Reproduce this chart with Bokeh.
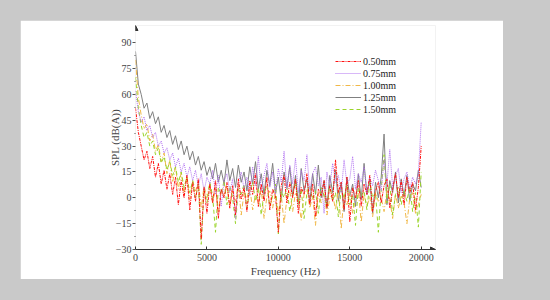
from bokeh.plotting import figure
from bokeh.embed import file_html
from bokeh.resources import INLINE
from bokeh.models import Legend, LegendItem, Arrow, NormalHead, FixedTicker

freq = list(range(0, 20001, 200))

spl_050 = [52, 38, 30, 22, 27, 17, 24, 12, 20, 8, 16, 5, 14, 2, 12, -4, 10, 0, 13, -7,
           9, -2, 11, -24, 6, -9, 8, -3, 10, -12, 5, 0, 9, -6, 7, -10, 11, -1, 6, -8,
           10, 2, 14, -5, 8, -2, 12, -7, 5, 1, -20, 7, 13, -3, 9, 0, 11, -9, 6, 2,
           14, -4, 8, -11, 5, 1, 10, -6, 7, -2, 22, 3, 9, -7, 12, -14, 6, 0, 10, -5,
           8, 2, 13, -8, 4, 9, -3, 7, 11, -6, 5, 14, 0, 10, -4, 12, 3, 9, -7, 6, 30]

spl_075 = [62, 50, 44, 47, 39, 42, 35, 38, 30, 33, 26, 29, 22, 26, 18, 23, 15, 20, 12, 18,
           10, 16, 7, 14, 4, 12, 8, 16, 2, 13, -5, 10, 14, 3, 11, -12, 9, 15, 5, 12,
           1, 18, 7, 24, 4, 13, 20, 6, 15, 2, 17, 9, 27, 5, 19, 8, 23, 3, 16, 10,
           25, 4, 14, 18, 7, 12, -9, 15, 6, 20, 9, 13, 3, 22, 8, 11, 24, 5, 14, 9,
           18, 2, 12, 7, 16, 10, 4, 22, 8, 28, 6, 13, 17, 3, 11, 15, 5, 12, 8, 14, 44]

spl_100 = [80, 58, 48, 40, 43, 33, 37, 27, 31, 21, 26, 14, 22, 9, 18, 5, 15, 2, 13, -1,
           10, 4, 9, -6, 7, 0, 8, -3, 6, -8, 5, 1, 7, -5, 4, -2, 8, -10, 3, 0,
           6, -7, 2, -4, 5, -12, 1, 4, -6, 3, -9, 2, -15, 0, 4, -8, 3, -1, -13, 2,
           5, -6, 1, -16, 3, -3, 4, -10, 0, 2, -7, 5, -18, 1, -4, 3, -9, 0, 4, -14,
           2, -5, 1, -11, 3, -2, 0, -8, 4, -1, -12, 2, -6, 1, -3, -15, 0, 3, -9, -4, 2]

spl_125 = [85, 66, 60, 52, 55, 46, 50, 43, 47, 38, 42, 35, 39, 31, 36, 28, 33, 25, 30, 22,
           27, 19, 24, 16, 21, 13, 18, 11, 20, 9, 16, 8, 22, 10, 17, 6, 19, 9, 15, 4,
           18, 8, 21, 5, 14, 2, 16, 7, 20, 3, 12, -2, 15, 6, 18, 1, 13, -4, 17, 4,
           11, -3, 14, 2, 19, 0, 10, -6, 13, 3, 16, -2, 9, -8, 12, 1, 8, -5, 14, -1,
           20, 2, 11, -9, 9, 0, 12, 37, -4, 10, 3, 15, -3, 11, 1, 13, -2, 8, 4, 16, 6]

spl_150 = [70, 52, 42, 35, 38, 30, 33, 25, 29, 20, 24, 16, 21, 13, 18, 9, 15, 6, 12, 3,
           10, 0, 8, -27, 5, -3, 9, 1, -20, 6, 2, 10, -4, 7, 0, -15, 5, 2, 8, -6,
           4, 9, -2, 6, -10, 3, 7, -5, 1, 8, -21, 4, 0, 6, -8, 2, 9, -3, 5, -12,
           3, 7, -1, 4, -9, 6, 1, -5, 8, -2, 3, -11, 5, 0, 7, -4, 2, -16, 6, 1,
           4, -7, 9, 0, 3, -20, 5, 25, -3, 8, -10, 2, 6, -4, 4, -2, 7, -8, 3, -17, 15]

labels = ["0.50mm", "0.75mm", "1.00mm", "1.25mm", "1.50mm"]
x_ticks = [0, 5000, 10000, 15000, 20000]
y_ticks = [-30, -15, 0, 15, 30, 45, 60, 75, 90]

FONT = "Liberation Serif"

p = figure(width=483, height=259, x_range=(0, 21000), y_range=(-30, 100),
           output_backend="svg", toolbar_location=None,
           min_border_left=115, min_border_right=68, min_border_top=5, min_border_bottom=28,
           background_fill_color="white", border_fill_color="white",
           outline_line_color=None)
p.margin = (20, 0, 0, 20)
p.xgrid.visible = False
p.ygrid.visible = False

styles = [
    (spl_125, "#808080", "solid", 3),
    (spl_100, "#f0b848", "5 2 1 2", 2),
    (spl_150, "#9ad42a", "4 3", 4),
    (spl_075, "#b070f0", "1 1", 1),
    (spl_050, "#ff1010", "3 1 1 1", 0),
]
renderers = {}
for vals, col, dash, idx in styles:
    r = p.line(freq, vals, line_color=col, line_width=1, line_dash=dash)
    renderers[idx] = r

legend = Legend(items=[LegendItem(label=labels[i], renderers=[renderers[i]]) for i in range(5)],
                location=(200, 134), padding=0, margin=0, spacing=0,
                glyph_height=12, glyph_width=26, label_height=12, label_standoff=2,
                border_line_color=None, background_fill_alpha=0,
                label_text_font=FONT, label_text_font_size="10px", label_text_color="#222222")
p.add_layout(legend)

# x axis
xa = p.xaxis[0]
xa.ticker = FixedTicker(ticks=x_ticks)
xa.axis_label = "Frequency (Hz)"
xa.axis_label_text_font = FONT
xa.axis_label_text_font_style = "normal"
xa.axis_label_text_font_size = "11px"
xa.axis_label_standoff = 1
xa.major_label_text_font = FONT
xa.major_label_text_font_size = "10px"
xa.major_label_standoff = 4
xa.major_tick_in = 3
xa.major_tick_out = 0
xa.minor_tick_line_color = None
xa.axis_line_color = "#333333"
xa.major_tick_line_color = "#333333"

# y axis
ya = p.yaxis[0]
ya.ticker = FixedTicker(ticks=y_ticks, minor_ticks=[-22.5, -7.5, 7.5, 22.5, 37.5, 52.5, 67.5, 82.5])
ya.axis_label = "SPL (dB(A))"
ya.axis_label_text_font = FONT
ya.axis_label_text_font_style = "normal"
ya.axis_label_text_font_size = "11px"
ya.axis_label_standoff = -8
ya.major_label_text_font = FONT
ya.major_label_text_font_size = "10px"
ya.major_label_standoff = 1
ya.major_tick_in = 0
ya.major_tick_out = 3
ya.minor_tick_in = 0
ya.minor_tick_out = 1
ya.axis_line_color = None
ya.major_tick_line_color = "#555555"
ya.minor_tick_line_color = "#555555"

p.add_layout(Arrow(end=NormalHead(size=5, fill_color="#333333", line_color="#333333"),
                   x_start=20500, y_start=-30, x_end=21000, y_end=-30,
                   line_color="#333333", line_width=1))
p.add_layout(Arrow(end=NormalHead(size=5, fill_color="#333333", line_color="#333333"),
                   x_start=0, y_start=97, x_end=0, y_end=100,
                   line_color="#333333", line_width=1))

html = file_html(p, INLINE)
html = html.replace("</head>", "<style>html, body { background-color: #c9c9c9; }</style></head>", 1)
open("out.html", "w").write(html)
